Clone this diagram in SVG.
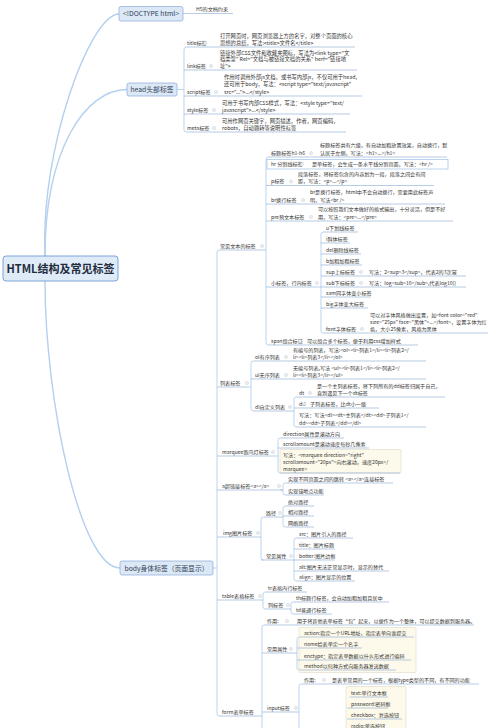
<svg xmlns="http://www.w3.org/2000/svg" xmlns:xlink="http://www.w3.org/1999/xlink" width="500" height="728" viewBox="0 0 500 728">
<style>
text{font-family:"Noto Sans CJK SC","Noto Sans",sans-serif;fill:#333}
.t{font-size:5.1px}
.h{font-size:5.3px}
.l1{font-size:6.8px;fill:#2f3f55}
.root{font-size:11px;font-weight:bold;fill:#1f2d3d}
.u{stroke:#86a9d3;stroke-width:0.6;fill:none}
.c{stroke:#9fc2e6;stroke-width:0.7;fill:none}
.cv{stroke:#b3d0ee;stroke-width:1.4;fill:none}
.b1{fill:#dce8f6;stroke:#86abd8;stroke-width:0.7}
.yb{fill:#fdfaec;stroke:#d8d1b4;stroke-width:0.5}
.mk{fill:#fff;stroke:#b4bcc8;stroke-width:0.4}
</style>
<defs>
<g id="mk"><circle class="mk" r="1.6"/><path d="M-0.9,0H0.9" stroke="#9aa4b2" stroke-width="0.4"/></g>
</defs>
<rect width="500" height="728" fill="#fff"/>

<g id="connectors">
<path class="cv" d="M45,256 C40,150 90,14 119,14"/>
<path class="cv" d="M45,256 C45,150 85,89.5 127,89.5"/>
<path class="cv" d="M45,281 C45,400 80,568 120,568"/>
<path class="c" d="M183,13.5 H190"/>
<path class="c" d="M177,89.5 H184"/>
<path class="c" d="M186.5,47 Q184,47 184,49.5 V129.5 Q184,132 186.5,132"/>
<path class="c" d="M213,568 H217"/>
<path class="c" d="M219.5,250 Q217,250 217,252.5 V713.5 Q217,716 219.5,716"/>
<path class="c" d="M268.5,157 Q266,157 266,159.5 V342.5 Q266,345 268.5,345"/>
<path class="c" d="M316,287 H321"/>
<path class="c" d="M323.5,232 Q321,232 321,234.5 V330.5 Q321,333 323.5,333"/>
<path class="c" d="M248,387 H251"/>
<path class="c" d="M253.5,361 Q251,361 251,363.5 V408.5 Q251,411 253.5,411"/>
<path class="c" d="M296.5,397 Q294,397 294,399.5 V424.5 Q294,427 296.5,427"/>
<path class="c" d="M275,456 H278"/>
<path class="c" d="M280.5,438 Q278,438 278,440.5 V470.5 Q278,473 280.5,473"/>
<path class="c" d="M280,490 H283"/>
<path class="c" d="M285.5,483 Q283,483 283,485.5 V492.5 Q283,495 285.5,495"/>
<path class="c" d="M263.5,517 Q261,517 261,519.5 V557.5 Q261,560 263.5,560"/>
<path class="c" d="M285.5,506 Q283,506 283,508.5 V524.5 Q283,527 285.5,527"/>
<path class="c" d="M296.5,538 Q294,538 294,540.5 V578.5 Q294,581 296.5,581"/>
<path class="c" d="M265.5,592 Q263,592 263,594.5 V606.5 Q263,609 265.5,609"/>
<path class="c" d="M293.5,602 Q291,602 291,604.5 V611.5 Q291,614 293.5,614"/>
<path class="c" d="M264.5,625 Q262,625 262,627.5 V728"/>
<path class="c" d="M299.5,637 Q297,637 297,639.5 V667.5 Q297,670 299.5,670"/>
<path class="c" d="M301.5,684 Q299,684 299,686.5 V728"/>
<path class="c" d="M349.5,697 Q347,697 347,699.5 V728"/>
</g>

<g id="root">
<rect x="3" y="256" width="115" height="25" rx="3" fill="#e0ebf8" stroke="#6e9bd2" stroke-width="0.9"/>
<text class="root" x="60.5" y="272.5" text-anchor="middle">HTML结构及常见标签</text>
</g>

<g id="doctype">
<rect class="b1" x="119" y="6.5" width="64" height="14.5" rx="2"/>
<text class="l1" x="151" y="16" text-anchor="middle">&lt;!DOCTYPE html&gt;</text>
<text class="t" x="196" y="11.3">H5的文档约束</text>
<path class="u" d="M190,13.5 H233"/>
</g>

<g id="head">
<rect class="b1" x="127" y="83" width="50" height="13" rx="2"/>
<text class="l1" x="152" y="92" text-anchor="middle">head头部标签</text>
</g>
<g id="head-title">
<text class="t" x="187" y="44.9">title标签</text>
<use href="#mk" x="205" y="43"/>
<text class="h" x="220" y="37.9">打开网页时，网页浏览器上方的名字，对整个页面的核心</text>
<text class="h" x="220" y="44.9">思想的总结，写法:&lt;title&gt;文件名&lt;/title&gt;</text>
<path class="u" d="M186.5,47 H355"/>
</g>
<g id="head-link">
<text class="t" x="187" y="67.9">link标签</text>
<use href="#mk" x="211" y="66"/>
<text class="h" x="220" y="54.9">链接外部CSS文件和收藏夹图标，写法为&lt;link type="文</text>
<text class="h" x="220" y="61.4">档类型" Rel="文档与被链接文档的关系" herf="链接地</text>
<text class="h" x="220" y="67.9">址"&gt;</text>
<path class="u" d="M184,70 H357"/>
</g>
<g id="head-script">
<text class="t" x="187" y="93.9">script标签</text>
<use href="#mk" x="216" y="92"/>
<text class="h" x="224" y="78.9">作用时调用外部js文档，或书写内部js，不仅可用于head,</text>
<text class="h" x="224" y="86.4">还可用于body，写法：&lt;script type="text/javascript"</text>
<text class="h" x="224" y="93.9">src="..."&gt;...&lt;/style&gt;</text>
<path class="u" d="M184,96 H362"/>
</g>
<g id="head-style">
<text class="t" x="187" y="111.9">style标签</text>
<use href="#mk" x="214" y="110"/>
<text class="h" x="222" y="104.9">可用于书写内部CSS样式，写法：&lt;style type="text/</text>
<text class="h" x="222" y="111.9">javascript"&gt;...&lt;/style&gt;</text>
<path class="u" d="M184,114 H350"/>
</g>
<g id="head-meta">
<text class="t" x="187" y="129.9">meta标签</text>
<use href="#mk" x="214" y="128"/>
<text class="h" x="222" y="122.9">可用作网页关键字，网页描述，作者，网页编码，</text>
<text class="h" x="222" y="129.9">robots，自动跳转等说明性标签</text>
<path class="u" d="M186.5,132 H346"/>
</g>

<g id="body">
<rect class="b1" x="120" y="561" width="93" height="14" rx="2"/>
<text class="l1" x="166.5" y="570.5" text-anchor="middle">body身体标签（页面显示）</text>
</g>

<g id="text-tags">
<text class="t" x="220" y="247.9">常见文本的标签</text>
<use href="#mk" x="262" y="246"/>
<path class="u" d="M219.5,250 H266"/>
</g>
<g id="h1-h6">
<text class="t" x="271" y="154.9">标题标签h1-h6</text>
<use href="#mk" x="311" y="153"/>
<text class="t" x="320" y="147.4">标题标签共有六级，有自动加粗放置效果，自动换行，默</text>
<text class="t" x="320" y="154.9">认居于左侧，写法：&lt;h1&gt;...&lt;/h1&gt;</text>
<path class="u" d="M268.5,157 H447"/>
</g>
<g id="hr">
<rect x="267" y="159.5" width="181" height="9.5" fill="none" stroke="#8fb6e3" stroke-width="0.6"/>
<text class="t" x="271" y="165.9">hr 分割线标签</text>
<use href="#mk" x="302" y="164"/>
<text class="t" x="312" y="165.9">是单标签，会生成一条水平线分割页面，写法：&lt;hr /&gt;</text>
</g>
<g id="p">
<text class="t" x="271" y="183.4">p标签</text>
<use href="#mk" x="291" y="181.5"/>
<text class="t" x="298" y="175.9">段落标签，将标签包含的内容划为一段，段落之间会有间</text>
<text class="t" x="298" y="183.4">距，写法：&lt;p&gt;...&lt;/p&gt;</text>
<path class="u" d="M266,185.5 H434"/>
</g>
<g id="br">
<text class="t" x="271" y="201.9">br换行标签</text>
<use href="#mk" x="303" y="200"/>
<text class="t" x="310" y="194.4">br是换行标签，html中不会自动换行，需要用此标签声</text>
<text class="t" x="310" y="201.9">明，写法&lt;br /&gt;</text>
<path class="u" d="M266,204 H445"/>
</g>
<g id="pre">
<text class="t" x="271" y="218.9">pre预文本标签</text>
<use href="#mk" x="311" y="217"/>
<text class="t" x="318" y="211.4">可以按照我们文本做好的格式输出，十分灵活，但是不好</text>
<text class="t" x="318" y="218.9">用，写法：&lt;pre&gt;...&lt;/pre&gt;</text>
<path class="u" d="M266,221 H453"/>
</g>
<g id="inline-tags">
<text class="t" x="271" y="284.9">小标签，行内标签</text>
<use href="#mk" x="317" y="283"/>
<path class="u" d="M266,287 H316"/>
</g>
<g id="u"><text class="t" x="326" y="229.9">u下划线标签</text><path class="u" d="M323.5,232 H358"/></g>
<g id="i"><text class="t" x="326" y="240.9">i斜体标签</text><path class="u" d="M321,243 H350"/></g>
<g id="del"><text class="t" x="326" y="251.9">del删除线标签</text><path class="u" d="M321,254 H361"/></g>
<g id="b"><text class="t" x="326" y="262.9">b加粗加粗标签</text><path class="u" d="M321,265 H362"/></g>
<g id="sup">
<text class="t" x="326" y="273.9">sup上标标签</text>
<use href="#mk" x="361" y="272"/>
<text class="t" x="369" y="273.9">写法：2&lt;sup&gt;3&lt;/sup&gt;，代表2的3次幂</text>
<path class="u" d="M321,276 H466"/>
</g>
<g id="sub">
<text class="t" x="326" y="284.9">sub下标标签</text>
<use href="#mk" x="361" y="283"/>
<text class="t" x="369" y="284.9">写法：log&lt;sub&gt;10&lt;/sub&gt;,代表log10()</text>
<path class="u" d="M321,287 H466"/>
</g>
<g id="sam"><text class="t" x="326" y="294.9">sam同字体变小标签</text><path class="u" d="M321,297 H371"/></g>
<g id="big"><text class="t" x="326" y="305.9">big字体变大标签</text><path class="u" d="M321,308 H368"/></g>
<g id="font">
<text class="t" x="326" y="330.9">font字体标签</text>
<use href="#mk" x="362" y="329"/>
<text class="t" x="370" y="316.9">可以对字体风格做出设置，如&lt;font color="red"</text>
<text class="t" x="370" y="323.9">size="25px" face="黑体"&gt;...&lt;/font&gt;，设置字体为红</text>
<text class="t" x="370" y="330.9">色，大小25像素，风格为黑体</text>
<path class="u" d="M323.5,333 H488"/>
</g>
<g id="span">
<text class="t" x="271" y="342.9">span组合标签</text>
<use href="#mk" x="300" y="341"/>
<text class="t" x="307" y="342.9">可以组合多个标签，便于利用css增加样式</text>
<path class="u" d="M268.5,345 H418"/>
</g>

<g id="list-tags">
<text class="t" x="220" y="384.9">列表标签</text>
<use href="#mk" x="247" y="383"/>
<path class="u" d="M217,387 H248"/>
</g>
<g id="ol">
<text class="t" x="255" y="358.9">ol有序列表</text>
<use href="#mk" x="286" y="357"/>
<text class="t" x="293" y="352.4">有编号的列表，写法:&lt;ol&gt;&lt;li&gt;列表1&lt;/li&gt;&lt;li&gt;列表2&lt;/</text>
<text class="t" x="293" y="358.9">li&gt;&lt;li&gt;列表3&lt;/li&gt;&lt;/ol&gt;</text>
<path class="u" d="M253.5,361 H426"/>
</g>
<g id="ul">
<text class="t" x="255" y="376.9">ul无序列表</text>
<use href="#mk" x="286" y="375"/>
<text class="t" x="293" y="369.9">无编号列表,写法 &lt;ul&gt;&lt;li&gt;列表1&lt;/li&gt;&lt;li&gt;列表2&lt;/</text>
<text class="t" x="293" y="376.9">li&gt;&lt;li&gt;列表3&lt;/li&gt;&lt;/ul&gt;</text>
<path class="u" d="M251,379 H426"/>
</g>
<g id="dl">
<text class="t" x="255" y="408.9">dl自定义列表</text>
<use href="#mk" x="290" y="407"/>
<path class="u" d="M253.5,411 H294"/>
</g>
<g id="dt">
<text class="t" x="299" y="394.9">dt</text>
<use href="#mk" x="310" y="393"/>
<text class="t" x="317" y="388.4">是一个主列表标签，将下列所有的dd标签归属于自己，</text>
<text class="t" x="317" y="394.9">直到遇见下一个dt标签</text>
<path class="u" d="M296.5,397 H445"/>
</g>
<g id="dd">
<text class="t" x="299" y="405.9">dd</text>
<use href="#mk" x="304" y="404"/>
<text class="t" x="310" y="405.9">子列表标签，比dt小一级</text>
<path class="u" d="M294,408 H379"/>
</g>
<g id="dl-syntax">
<text class="t" x="299" y="417.4">写法：写法&lt;dl&gt;&lt;dt&gt;主列表&lt;/dt&gt;&lt;dd&gt;子列表1&lt;/</text>
<text class="t" x="299" y="424.9">dd&gt;&lt;dd&gt;子列表&lt;/dd&gt;&lt;/dl&gt;</text>
<path class="u" d="M296.5,427 H426"/>
</g>

<g id="marquee">
<text class="t" x="222" y="453.9">marquee跑马灯标签</text>
<use href="#mk" x="273" y="452"/>
<path class="u" d="M217,456 H275"/>
</g>
<g id="direction"><text class="t" x="283" y="435.9">direction属性是滚动方向</text><path class="u" d="M280.5,438 H344"/></g>
<g id="scrollamount"><text class="t" x="283" y="445.9">scrollamount是滚动速度每秒几像素</text><path class="u" d="M278,448 H369"/></g>
<g id="marquee-syntax">
<rect class="yb" x="280" y="449.5" width="121" height="23.5" rx="1"/>
<text class="t" x="283" y="456.9">写法：&lt;marquee direction="right"</text>
<text class="t" x="283" y="463.9">scrollamount="20px"&gt;向右滚动，速度20px&lt;/</text>
<text class="t" x="283" y="470.9">marquee&gt;</text>
<path class="u" d="M280.5,473 H400"/>
</g>

<g id="a-tag">
<text class="t" x="222" y="487.9">a超链接标签&lt;a&gt;&lt;/a&gt;</text>
<use href="#mk" x="279" y="486"/>
<path class="u" d="M217,490 H283"/>
</g>
<g id="a-jump"><text class="t" x="288" y="480.9">实现不同页面之间的跳转 &lt;a&gt;&lt;/a&gt;连接标签</text><path class="u" d="M285.5,483 H393"/></g>
<g id="a-anchor"><text class="t" x="288" y="492.9">实现锚地点功能</text><path class="u" d="M285.5,495 H324"/></g>

<g id="img">
<text class="t" x="223" y="534.9">img图片标签</text>
<use href="#mk" x="258" y="533"/>
<path class="u" d="M217,537 H261"/>
</g>
<g id="path">
<text class="t" x="266" y="514.9">路径</text>
<use href="#mk" x="280" y="513"/>
<path class="u" d="M263.5,517 H283"/>
</g>
<g id="abs"><text class="t" x="288" y="503.9">绝对路径</text><path class="u" d="M285.5,506 H314"/></g>
<g id="rel"><text class="t" x="288" y="513.9">相对路径</text><path class="u" d="M283,516 H314"/></g>
<g id="net"><text class="t" x="288" y="524.9">网络路径</text><path class="u" d="M285.5,527 H314"/></g>
<g id="img-attrs">
<text class="t" x="266" y="557.9">常见属性</text>
<use href="#mk" x="291" y="556"/>
<path class="u" d="M261,560 H294"/>
</g>
<g id="src"><text class="t" x="299" y="535.9">src：图片引入的路径</text><path class="u" d="M296.5,538 H353"/></g>
<g id="title-attr"><text class="t" x="299" y="546.9">title：图片标题</text><path class="u" d="M294,549 H335"/></g>
<g id="botter"><text class="t" x="299" y="557.9">botter:图片边框</text><path class="u" d="M294,560 H335"/></g>
<g id="alt"><text class="t" x="299" y="568.9">alt:图片无法正常显示时，显示的替代</text><path class="u" d="M294,571 H389"/></g>
<g id="align"><text class="t" x="299" y="578.9">align：图片显示的位置</text><path class="u" d="M296.5,581 H355"/></g>

<g id="table">
<text class="t" x="222" y="597.9">table表格标签</text>
<use href="#mk" x="260" y="596"/>
<path class="u" d="M217,600 H263"/>
</g>
<g id="tr"><text class="t" x="268" y="589.9">tr表格内行标签</text><path class="u" d="M265.5,592 H307"/></g>
<g id="col">
<text class="t" x="268" y="606.9">列标签</text>
<use href="#mk" x="288" y="605"/>
<path class="u" d="M265.5,609 H291"/>
</g>
<g id="th"><text class="t" x="296" y="599.9">th标题行标签，会自动加粗加粗且居中</text><path class="u" d="M293.5,602 H389"/></g>
<g id="td"><text class="t" x="296" y="611.9">td普通行标签</text><path class="u" d="M293.5,614 H332"/></g>

<g id="form">
<text class="t" x="222" y="713.9">form表单标签</text>
<path class="u" d="M219.5,716 H262"/>
</g>
<g id="form-role">
<text class="t" x="267" y="622.9">作用:</text>
<use href="#mk" x="287" y="621"/>
<text class="t" x="297" y="622.9">用于将其他表单标签“包”起来，以便作为一个整体，可以提交数据到服务器。</text>
<path class="u" d="M264.5,625 H474"/>
</g>
<g id="form-attrs">
<text class="t" x="267" y="650.9">常用属性</text>
<use href="#mk" x="291" y="649"/>
<path class="u" d="M262,653 H297"/>
</g>
<g id="form-attr-list">
<rect class="yb" x="299" y="627.5" width="117" height="45" rx="1"/>
<text class="t" x="304" y="634.9">action:指定一个URL地址，指定表单向谁提交</text><path class="u" d="M299.5,637 H414"/>
<text class="t" x="304" y="645.9">name给表单定一个名字</text><path class="u" d="M297,648 H362"/>
<text class="t" x="304" y="657.9">enctype：指定表单数据以什么形式进行编码</text><path class="u" d="M297,660 H411"/>
<text class="t" x="304" y="667.9">method以何种方式向服务器发送数据</text><path class="u" d="M299.5,670 H396"/>
</g>
<g id="input">
<text class="t" x="267" y="709.9">input标签</text>
<use href="#mk" x="296" y="708"/>
<path class="u" d="M262,712 H299"/>
</g>
<g id="input-role">
<text class="t" x="304" y="681.9">作用:</text>
<use href="#mk" x="324" y="680"/>
<text class="t" x="332" y="681.9">是表单常用的一个标签，根据type类型的不同，有不同的功能</text>
<path class="u" d="M301.5,684 H479"/>
</g>
<g id="input-types">
<rect class="yb" x="346" y="686.5" width="60" height="45" rx="1"/>
<text class="t" x="351" y="694.9">text:单行文本框</text><path class="u" d="M349.5,697 H388"/>
<text class="t" x="351" y="705.9">password:密码框</text><path class="u" d="M347,708 H388"/>
<text class="t" x="351" y="716.9">checkbox：复选按钮</text><path class="u" d="M347,719 H402"/>
<text class="t" x="351" y="727.9">radio:单选按钮</text>
</g>
</svg>
